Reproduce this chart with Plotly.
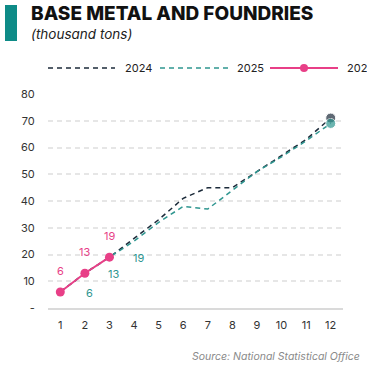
import plotly.graph_objects as go

months = list(range(1, 13))
tick_labels = [str(m) for m in months]
y_tickvals = [0, 10, 20, 30, 40, 50, 60, 70, 80]
y_ticktext = ["-", "10", "20", "30", "40", "50", "60", "70", "80"]

v2024 = [6, 13, 19, 26, 33, 41, 45, 45, 51, 57, 63, 71]
v2025 = [6, 13, 19, 25, 32, 38, 37, 44, 51, 56.5, 62.5, 69]
v2026 = [6, 13, 19]

C2024 = "#1c2b3a"
C2025 = "#2f9690"
C2026 = "#e83f87"
FONT = "Inter"

fig = go.Figure()

end_size = lambda n: [0] * (n - 1) + [10]

fig.add_trace(go.Scatter(
    x=months, y=v2024, mode="lines+markers", name="2024",
    line=dict(color=C2024, width=1.5, dash="5px,4px"),
    marker=dict(size=end_size(len(v2024)), color=C2024),
    cliponaxis=False, showlegend=False))
fig.add_trace(go.Scatter(
    x=months, y=v2025, mode="lines+markers", name="2025",
    line=dict(color=C2025, width=1.5, dash="5px,4px"),
    marker=dict(size=end_size(len(v2025)), color=C2025),
    cliponaxis=False, showlegend=False))
fig.add_trace(go.Scatter(
    x=months[:len(v2026)], y=v2026, mode="lines+markers", name="2026",
    line=dict(color=C2026, width=2),
    marker=dict(size=9, color=C2026),
    cliponaxis=False, showlegend=False))

# value labels: 2026 above its points, 2025 below-right
for m, v in zip(months, v2026):
    fig.add_annotation(x=m, y=v, text=str(v), showarrow=False, yshift=21,
                       font=dict(family=FONT, size=11, color=C2026))
for m, v in zip(months[:3], v2025[:3]):
    fig.add_annotation(x=m, y=v, text=str(v), showarrow=False, xshift=29, yshift=-1,
                       font=dict(family=FONT, size=11, color=C2025))

# header
fig.add_shape(type="rect", xref="paper", yref="paper",
              x0=-43 / 295, x1=-31 / 295, y0=(308 - 5) / 214, y1=(308 - 41) / 214,
              fillcolor="#0e8b87", line=dict(width=0))
fig.add_annotation(xref="paper", yref="paper", x=-19 / 295, y=(308 - 14) / 214,
                   xanchor="left", yanchor="middle", showarrow=False,
                   text="BASE METAL AND FOUNDRIES",
                   font=dict(family=FONT, size=19, color="#111111", weight=800))
fig.add_annotation(xref="paper", yref="paper", x=-19 / 295, y=(308 - 34) / 214,
                   xanchor="left", yanchor="middle", showarrow=False,
                   text="<i>(thousand tons)</i>",
                   font=dict(family=FONT, size=13.5, color="#222222"))

# legend row
ly = (308 - 68) / 214
def px(x):
    return (x - 48) / 295
legend_items = [("2024", C2024, "5px,4px", 48, 115, 123, False),
                ("2025", C2025, "5px,4px", 160, 228, 235, False),
                ("2026", C2026, "solid", 270, 338, 345, True)]
for label, col, dash, x0, x1, tx, dot in legend_items:
    fig.add_shape(type="line", xref="paper", yref="paper",
                  x0=px(x0), x1=px(x1), y0=ly, y1=ly,
                  line=dict(color=col, width=1.5 if not dot else 2, dash=dash))
    if dot:
        fig.add_shape(type="circle", xref="paper", yref="paper",
                      x0=px(300), x1=px(308), y0=ly - 4 / 214, y1=ly + 4 / 214,
                      fillcolor=col, line=dict(width=0))
    fig.add_annotation(xref="paper", yref="paper", x=px(tx), y=ly,
                       xanchor="left", yanchor="middle", showarrow=False,
                       text=label, font=dict(family=FONT, size=11, color="#222222"))

# source note
fig.add_annotation(xref="paper", yref="paper", x=px(362), y=(308 - 356) / 214,
                   xanchor="right", yanchor="middle", showarrow=False,
                   text="<i>Source: National Statistical Office</i>",
                   font=dict(family=FONT, size=10.5, color="#8a8a8a"))

fig.update_layout(
    width=367, height=370,
    margin=dict(l=48, r=24, t=94, b=62),
    paper_bgcolor="white", plot_bgcolor="white",
    font=dict(family=FONT, size=11, color="#333333"),
    xaxis=dict(range=[0.5, 12.5], tickvals=months, ticktext=tick_labels,
               showgrid=False, zeroline=False, showline=True,
               linecolor="#dadada", linewidth=2,
               ticks="outside", ticklen=6, tickcolor="rgba(0,0,0,0)",
               tickfont=dict(size=11, color="#333333")),
    yaxis=dict(range=[0, 80], tickvals=y_tickvals, ticktext=y_ticktext,
               showgrid=True, gridcolor="#e6e6e6", gridwidth=1.5, griddash="5px,4px",
               zeroline=False, showline=False,
               ticks="outside", ticklen=10, tickcolor="rgba(0,0,0,0)",
               tickfont=dict(size=11, color="#333333")),
)

fig.write_html("out.html")
